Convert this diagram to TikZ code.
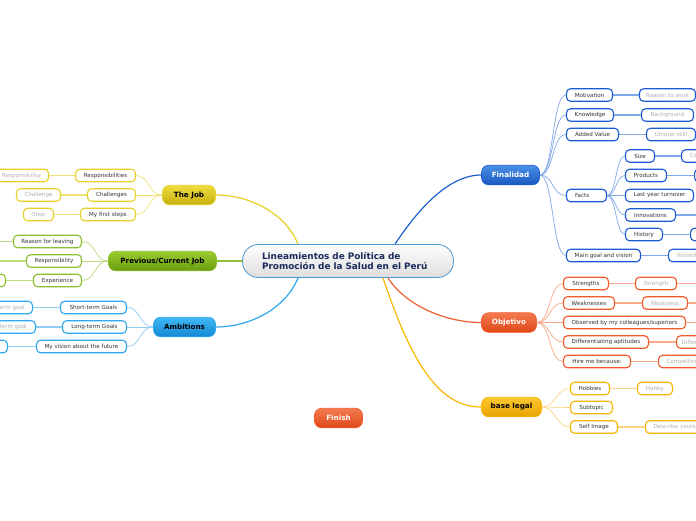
\documentclass[tikz,border=0pt]{standalone}
\usepackage{fontspec}
\setmainfont{DejaVu Sans}
\newcommand\subf{\fontsize{5.6}{6.5}\selectfont}
\newcommand\topf{\fontsize{7.2}{8.5}\selectfont\bfseries}
\newcommand\cenf{\fontsize{8.9}{10.5}\selectfont\bfseries}
\definecolor{txtc}{HTML}{333333}
\definecolor{gtxt}{HTML}{B0B0B0}
\definecolor{bluec}{HTML}{1A5CD2}
\definecolor{bluel}{HTML}{7FA8E8}
\definecolor{bluem}{HTML}{1A60D0}
\definecolor{orc}{HTML}{F05A28}
\definecolor{orl}{HTML}{F8A888}
\definecolor{orm}{HTML}{F06030}
\definecolor{ylc}{HTML}{F8B400}
\definecolor{yll}{HTML}{FCD480}
\definecolor{ylm}{HTML}{F8B800}
\definecolor{jbc}{HTML}{E6D02A}
\definecolor{jbl}{HTML}{EEE278}
\definecolor{jbm}{HTML}{E8D020}
\definecolor{grc}{HTML}{8CC030}
\definecolor{grl}{HTML}{BCDC80}
\definecolor{grm}{HTML}{90C030}
\definecolor{cyc}{HTML}{30A8EE}
\definecolor{cyl}{HTML}{90CEF4}
\definecolor{cym}{HTML}{30A8F0}
\definecolor{cenb}{HTML}{4A9AD8}
\definecolor{cent}{HTML}{1A2A5A}
\definecolor{finT}{HTML}{4A90E8}
\definecolor{finB}{HTML}{1A58C0}
\definecolor{objT}{HTML}{F47A50}
\definecolor{objB}{HTML}{E04818}
\definecolor{blT}{HTML}{FCC830}
\definecolor{blB}{HTML}{E8A400}
\definecolor{jobT}{HTML}{EEDC40}
\definecolor{jobB}{HTML}{C8B010}
\definecolor{prvT}{HTML}{9CCC30}
\definecolor{prvB}{HTML}{6A9C10}
\definecolor{ambT}{HTML}{40B8F4}
\definecolor{ambB}{HTML}{1288D4}
\tikzset{
  subn/.style={draw=#1, fill=white, rounded corners=4pt, line width=1.1pt, font=\subf, text=txtc, minimum height=12.5pt, inner xsep=3pt, inner ysep=0pt},
  gsubn/.style={subn=#1, text=gtxt},
  edgen/.style={gsubn=#1, anchor=west, align=left, inner xsep=8pt},
  topicn/.style n args={3}{top color=#1, bottom color=#2, draw=#3, rounded corners=7pt, line width=0.6pt, minimum height=19.5pt, font=\topf, inner sep=0pt},
  fan/.style={draw=#1, line width=0.7pt},
  gline/.style={draw=#1, line width=1.3pt},
  mainl/.style={draw=#1, line width=1.2pt}
}
\begin{document}
\begin{tikzpicture}[x=1pt,y=-1pt]
\useasboundingbox (0,0) rectangle (696,520);
\clip (0,0) rectangle (696,520);
\fill[white] (0,0) rectangle (696,520);

% central
\node[draw=cenb, line width=0.8pt, top color=white, bottom color=black!13, rounded corners=16pt, minimum width=211pt, minimum height=33pt, text width=172pt, align=left, inner sep=0pt, font=\cenf, text=cent] (cen) at (348,261) {Lineamientos de Política de\\Promoción de la Salud en el Perú};

% main topics
\node[topicn={finT}{finB}{bluec}, minimum width=58pt, text=white] (fin) at (510.5,175) {Finalidad};
\node[topicn={objT}{objB}{orc}, minimum width=55pt, text=white] (obj) at (509,322.5) {Objetivo};
\node[topicn={blT}{blB}{ylc}, minimum width=60pt, text=black] (bl) at (511.5,407) {base legal};
\node[topicn={objT}{objB}{orc}, minimum width=48pt, text=white] (finish) at (338.5,418) {Finish};
\node[topicn={jobT}{jobB}{jbc}, minimum width=53pt, text=black] (job) at (189,195) {The Job};
\node[topicn={prvT}{prvB}{grc}, minimum width=108pt, text=black] (prev) at (162.5,261) {Previous/Current Job};
\node[topicn={ambT}{ambB}{cyc}, minimum width=62pt, text=black] (amb) at (184.5,327) {Ambitions};

% Finalidad children
\node[subn=bluec, minimum width=46pt] (mot) at (589.5,95) {Motivation};
\node[subn=bluec, minimum width=47pt] (know) at (590,115) {Knowledge};
\node[subn=bluec, minimum width=52pt] (added) at (592.5,134.5) {Added Value};
\node[subn=bluec, inner xsep=8.5pt, text width=23pt, align=left] (facts) at (586.5,195.5) {Facts};
\node[subn=bluec, minimum width=74pt] (maingoal) at (603.5,255.5) {Main goal and vision};
\node[gsubn=bluec, minimum width=56pt] (reason) at (667.5,95) {Reason to work};
\node[gsubn=bluec, minimum width=52pt] (backg) at (667.5,115) {Background};
\node[gsubn=bluec, minimum width=49pt] (uniq) at (671,134.5) {Unique skill};
\node[edgen=bluec, text width=54pt] (vision) at (668,255.5) {Vision/Mission};
\node[subn=bluec, minimum width=29pt] (size) at (640,156) {Size};
\node[subn=bluec, minimum width=41pt] (prod) at (646,175.5) {Products};
\node[subn=bluec, minimum width=68pt] (lyt) at (659.5,195.5) {Last year turnover};
\node[subn=bluec, minimum width=50pt] (innov) at (650.5,215) {Innovations};
\node[subn=bluec, minimum width=37pt] (hist) at (644,234.5) {History};
\node[edgen=bluec, text width=44pt] (sizec) at (681,156) {Company};
\node[gsubn=bluec, minimum width=50pt, anchor=west] (prodc) at (694,175.5) {};
\node[gsubn=bluec, minimum width=50pt, anchor=west] (histc) at (690,234.5) {};
\coordinate (innovE) at (700,215);

% Objetivo children
\node[subn=orc, minimum width=45pt] (str) at (586,283.5) {Strengths};
\node[subn=orc, minimum width=51pt] (weak) at (589,303) {Weaknesses};
\node[subn=orc, minimum width=122pt] (obs) at (624.5,322.5) {Observed by my colleagues/superiors};
\node[subn=orc, minimum width=85pt] (diff) at (606,342) {Differentiating aptitudes};
\node[subn=orc, minimum width=67pt] (hire) at (597,361.5) {Hire me because:};
\node[gsubn=orc, minimum width=41pt] (strc) at (656,283.5) {Strength};
\node[gsubn=orc, minimum width=45pt] (weakc) at (665,303) {Weakness};
\node[edgen=orc, text width=54pt, inner xsep=5pt] (diffc) at (676,342) {Differentiation};
\node[edgen=orc, text width=64pt] (hirec) at (658,361.5) {Compelling reason};
\coordinate (strE) at (700,283.5);
\coordinate (weakE) at (700,303);
\coordinate (obsE) at (700,322.5);

% base legal children
\node[subn=ylc, minimum width=39pt] (hob) at (590,388.5) {Hobbies};
\node[subn=ylc, minimum width=42pt] (subt) at (591.5,407.5) {Subtopic};
\node[subn=ylc, minimum width=47pt] (self) at (594,427) {Self Image};
\node[gsubn=ylc, minimum width=35pt] (hobc) at (655,388.5) {Hobby};
\node[edgen=ylc, text width=64pt] (selfc) at (645,427) {Describe yourself};

% The Job children
\node[subn=jbc, minimum width=60pt] (resp) at (105.5,175.5) {Responsibilities};
\node[subn=jbc, minimum width=48pt] (chal) at (111.5,195) {Challenges};
\node[subn=jbc, minimum width=55pt] (first) at (108,214.5) {My first steps};
\node[gsubn=jbc, minimum width=54pt] (respc) at (21.5,175.5) {Responsibility};
\node[gsubn=jbc, minimum width=44pt] (chalc) at (38.5,195) {Challenge};
\node[gsubn=jbc, minimum width=30pt] (stepc) at (38.5,214.5) {Step};

% Previous children
\node[subn=grc, minimum width=68pt] (rfl) at (47.5,241.5) {Reason for leaving};
\node[subn=grc, minimum width=55pt] (resp2) at (54,261) {Responsibility};
\node[subn=grc, minimum width=48pt] (expn) at (57.5,280.5) {Experience};
\node[gsubn=grc, minimum width=40pt, anchor=east] (expc) at (6,280.5) {};
\coordinate (rflW) at (-5,241.5);
\coordinate (resp2W) at (-5,261);

% Ambitions children
\node[subn=cyc, minimum width=66pt] (stg) at (93.5,307.5) {Short-term Goals};
\node[subn=cyc, minimum width=64pt] (ltg) at (94.5,327) {Long-term Goals};
\node[subn=cyc, minimum width=90pt] (vis) at (81.5,346.5) {My vision about the future};
\node[gsubn=cyc, minimum width=60pt, anchor=east] (stgc) at (33,307.5) {Short-term goal};
\node[gsubn=cyc, minimum width=60pt, anchor=east] (ltgc) at (36,327) {Long-term goal};
\node[gsubn=cyc, minimum width=40pt, anchor=east] (visc) at (8,346.5) {};

% central connectors
\draw[mainl=bluem] ([xshift=47pt]cen.north) .. controls +(20,-30) and +(-35,0) .. (fin.west);
\draw[mainl=orm] ([xshift=40pt]cen.south) .. controls +(18,28) and +(-35,0) .. (obj.west);
\draw[mainl=ylm] ([xshift=35pt]cen.south) .. controls +(30,90) and +(-40,0) .. (bl.west);
\draw[mainl=jbm] ([xshift=-50pt]cen.north) .. controls +(-12,-30) and +(35,0) .. (job.east);
\draw[mainl=cym] ([xshift=-50pt]cen.south) .. controls +(-12,30) and +(35,0) .. (amb.east);
\draw[mainl=grm] (cen.west) -- (prev.east);

% fans
\foreach \c in {mot,know,added,facts,maingoal}
  \draw[fan=bluel] (fin.east) .. controls +(14,0) and +(-14,0) .. (\c.west);
\foreach \c in {size,prod,lyt,innov,hist}
  \draw[fan=bluel] (facts.east) .. controls +(9,0) and +(-9,0) .. (\c.west);
\foreach \c in {str,weak,obs,diff,hire}
  \draw[fan=orl] (obj.east) .. controls +(14,0) and +(-14,0) .. (\c.west);
\foreach \c in {hob,subt,self}
  \draw[fan=yll] (bl.east) .. controls +(14,0) and +(-14,0) .. (\c.west);
\foreach \c in {resp,chal,first}
  \draw[fan=jbl] (job.west) .. controls +(-14,0) and +(14,0) .. (\c.east);
\foreach \c in {rfl,resp2,expn}
  \draw[fan=grl] (prev.west) .. controls +(-14,0) and +(14,0) .. (\c.east);
\foreach \c in {stg,ltg,vis}
  \draw[fan=cyl] (amb.west) .. controls +(-14,0) and +(14,0) .. (\c.east);

% child to grandchild lines
\draw[gline=bluel] (mot.east) -- (reason.west);
\draw[gline=bluel] (know.east) -- (backg.west);
\draw[gline=bluel] (added.east) -- (uniq.west);
\draw[gline=bluel] (maingoal.east) -- (vision.west);
\draw[gline=bluel] (size.east) -- (sizec.west);
\draw[gline=bluel] (prod.east) -- (prodc.west);
\draw[gline=bluel] (innov.east) -- (innovE);
\draw[gline=bluel] (hist.east) -- (histc.west);
\draw[gline=orl] (str.east) -- (strc.west);
\draw[gline=orl] (strc.east) -- (strE);
\draw[gline=orl] (weak.east) -- (weakc.west);
\draw[gline=orl] (weakc.east) -- (weakE);
\draw[gline=orl] (obs.east) -- (obsE);
\draw[gline=orl] (diff.east) -- (diffc.west);
\draw[gline=orl] (hire.east) -- (hirec.west);
\draw[gline=yll] (hob.east) -- (hobc.west);
\draw[gline=yll] (self.east) -- (selfc.west);
\draw[gline=jbl] (resp.west) -- (respc.east);
\draw[gline=jbl] (chal.west) -- (chalc.east);
\draw[gline=jbl] (first.west) -- (stepc.east);
\draw[gline=grl] (rfl.west) -- (rflW);
\draw[gline=grl] (resp2.west) -- (resp2W);
\draw[gline=grl] (expn.west) -- (expc.east);
\draw[gline=cyl] (stg.west) -- (stgc.east);
\draw[gline=cyl] (ltg.west) -- (ltgc.east);
\draw[gline=cyl] (vis.west) -- (visc.east);
\end{tikzpicture}
\end{document}
